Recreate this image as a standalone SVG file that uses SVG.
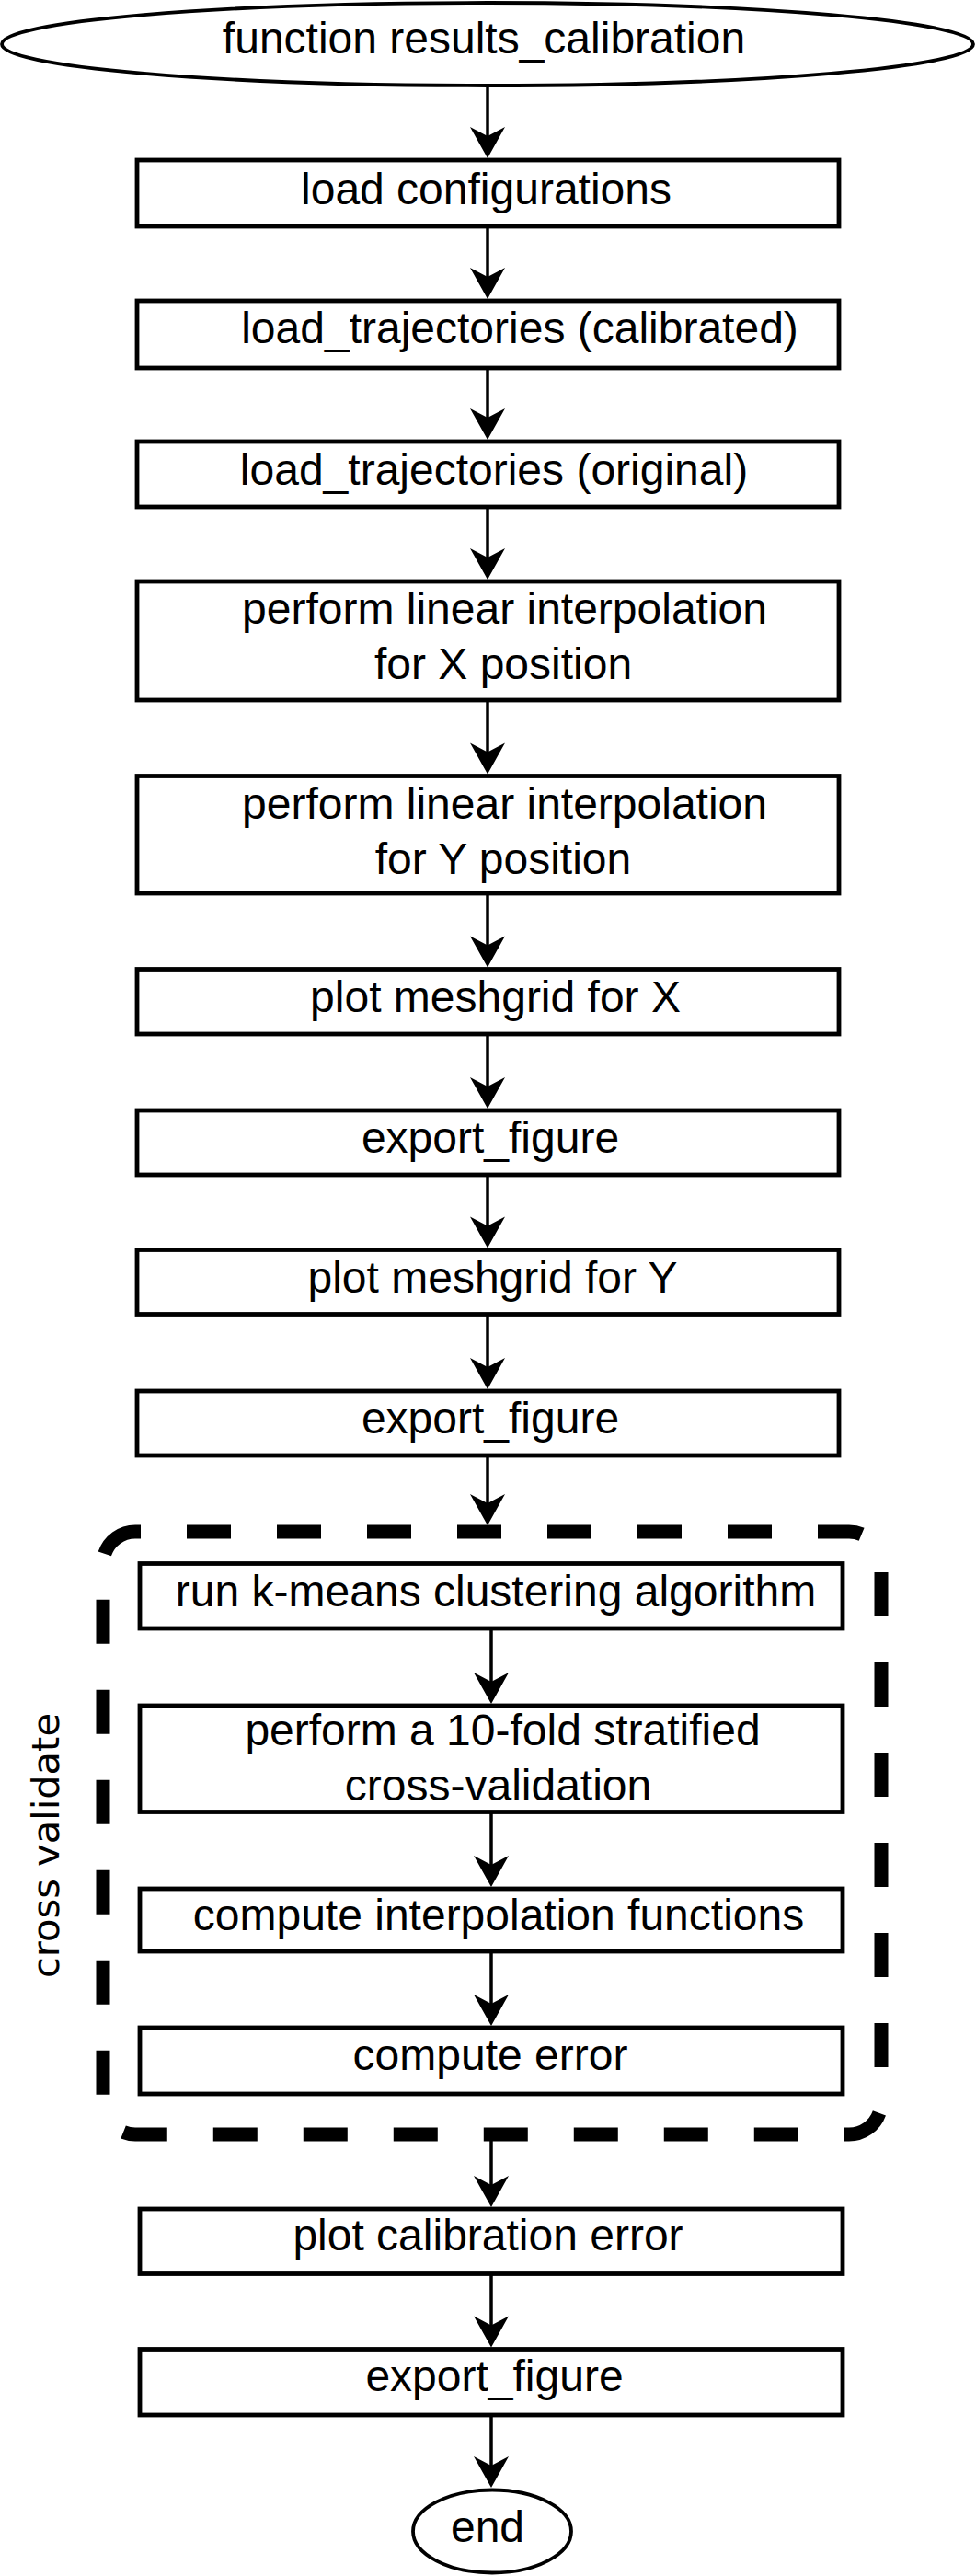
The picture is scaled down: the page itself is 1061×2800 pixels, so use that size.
<svg xmlns="http://www.w3.org/2000/svg" xmlns:xlink="http://www.w3.org/1999/xlink" width="1061" height="2800" viewBox="0 0 1061 2800">
<style>
.box{fill:#fff;stroke:#000;stroke-width:4.8}
.oval{fill:#fff;stroke:#000;stroke-width:3.8}
.t{font-family:"Liberation Sans",Arial,sans-serif;font-size:48px;fill:#000;text-anchor:middle}
.c{fill:none;stroke:#000;stroke-width:3.5}
.grp{fill:none;stroke:#000;stroke-width:15;stroke-dasharray:48 50;stroke-dashoffset:42}
</style>
<defs>
<path id="ah" d="M0,0 L-19,-34 L0,-24 L19,-34 Z" fill="#000"/>
</defs>
<rect width="1061" height="2800" fill="#fff"/>
<g id="connectors">
<path class="c" d="M530,93 V150"/><use xlink:href="#ah" href="#ah" x="530" y="172"/>
<path class="c" d="M530,246 V303"/><use xlink:href="#ah" href="#ah" x="530" y="325"/>
<path class="c" d="M530,400 V456"/><use xlink:href="#ah" href="#ah" x="530" y="478"/>
<path class="c" d="M530,551 V608"/><use xlink:href="#ah" href="#ah" x="530" y="630"/>
<path class="c" d="M530,761 V819.5"/><use xlink:href="#ah" href="#ah" x="530" y="841.5"/>
<path class="c" d="M530,971 V1029.5"/><use xlink:href="#ah" href="#ah" x="530" y="1051.5"/>
<path class="c" d="M530,1124 V1183"/><use xlink:href="#ah" href="#ah" x="530" y="1205"/>
<path class="c" d="M530,1277 V1334.5"/><use xlink:href="#ah" href="#ah" x="530" y="1356.5"/>
<path class="c" d="M530,1428.5 V1488"/><use xlink:href="#ah" href="#ah" x="530" y="1510"/>
<path class="c" d="M530,1582 V1636"/><use xlink:href="#ah" href="#ah" x="530" y="1658"/>
<path class="c" d="M534,1770 V1830"/><use xlink:href="#ah" href="#ah" x="534" y="1852"/>
<path class="c" d="M534,1969.5 V2029"/><use xlink:href="#ah" href="#ah" x="534" y="2051"/>
<path class="c" d="M534,2121 V2180"/><use xlink:href="#ah" href="#ah" x="534" y="2202"/>
<path class="c" d="M534,2320 V2377"/><use xlink:href="#ah" href="#ah" x="534" y="2399"/>
<path class="c" d="M534,2471.5 V2529.5"/><use xlink:href="#ah" href="#ah" x="534" y="2551.5"/>
<path class="c" d="M534,2625 V2682"/><use xlink:href="#ah" href="#ah" x="534" y="2704"/>
</g>
<g id="cross-validate">
<rect class="grp" x="112" y="1665" width="846" height="655" rx="35" ry="35"/>
<text transform="translate(64,2006) rotate(-90)" font-family="'DejaVu Sans',Verdana,sans-serif" font-size="41" text-anchor="middle" textLength="288" lengthAdjust="spacingAndGlyphs">cross validate</text>
</g>
<g id="start"><ellipse class="oval" cx="530" cy="48" rx="528" ry="45"/><text class="t" x="526" y="58">function results_calibration</text></g>
<g id="load-config"><rect class="box" x="149" y="174" width="763" height="72"/><text class="t" x="528.5" y="222">load configurations</text></g>
<g id="load-traj-cal"><rect class="box" x="149" y="327" width="763" height="73"/><text class="t" x="565" y="373">load_trajectories (calibrated)</text></g>
<g id="load-traj-orig"><rect class="box" x="149" y="480" width="763" height="71"/><text class="t" x="537" y="527">load_trajectories (original)</text></g>
<g id="interp-x"><rect class="box" x="149" y="632" width="763" height="129"/><text class="t" x="548.5" y="678">perform linear interpolation</text><text class="t" x="547" y="738">for X position</text></g>
<g id="interp-y"><rect class="box" x="149" y="843.5" width="763" height="127.5"/><text class="t" x="548.5" y="890">perform linear interpolation</text><text class="t" x="547" y="950">for Y position</text></g>
<g id="mesh-x"><rect class="box" x="149" y="1053.5" width="763" height="70.5"/><text class="t" x="538.5" y="1100">plot meshgrid for X</text></g>
<g id="export-1"><rect class="box" x="149" y="1207" width="763" height="70"/><text class="t" x="533" y="1253">export_figure</text></g>
<g id="mesh-y"><rect class="box" x="149" y="1358.5" width="763" height="70"/><text class="t" x="535.5" y="1405">plot meshgrid for Y</text></g>
<g id="export-2"><rect class="box" x="149" y="1512" width="763" height="70"/><text class="t" x="533" y="1558">export_figure</text></g>
<g id="kmeans"><rect class="box" x="152" y="1699.5" width="764" height="70.5"/><text class="t" x="539" y="1746">run k-means clustering algorithm</text></g>
<g id="tenfold"><rect class="box" x="152" y="1854" width="764" height="115.5"/><text class="t" x="546.5" y="1897">perform a 10-fold stratified</text><text class="t" x="541.5" y="1957">cross-validation</text></g>
<g id="interp-fn"><rect class="box" x="152" y="2053" width="764" height="68"/><text class="t" x="542" y="2098">compute interpolation functions</text></g>
<g id="error"><rect class="box" x="152" y="2204" width="764" height="72"/><text class="t" x="533" y="2250">compute error</text></g>
<g id="plot-error"><rect class="box" x="152" y="2401" width="764" height="70.5"/><text class="t" x="530.5" y="2446">plot calibration error</text></g>
<g id="export-3"><rect class="box" x="152" y="2553.5" width="764" height="71.5"/><text class="t" x="537.5" y="2599">export_figure</text></g>
<g id="end"><ellipse class="oval" cx="535" cy="2751.5" rx="86" ry="45"/><text class="t" x="530" y="2763">end</text></g>
</svg>
